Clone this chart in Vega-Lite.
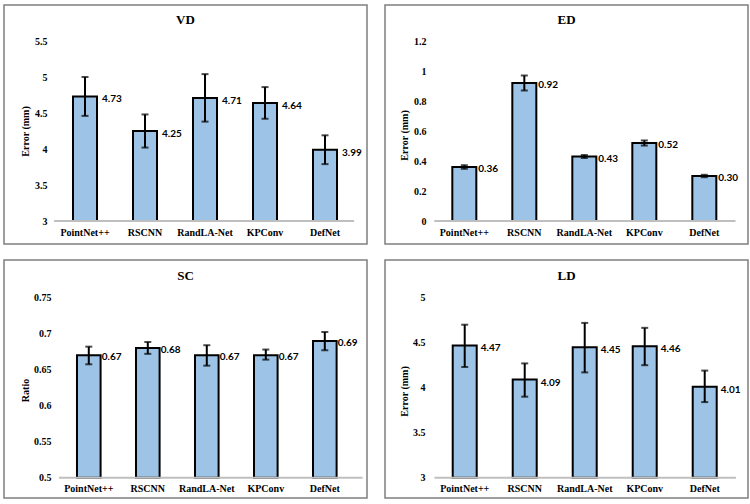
{
  "$schema": "https://vega.github.io/schema/vega-lite/v6.json",
  "background": "white",
  "padding": {"left": 3, "top": 4, "right": 0, "bottom": 0},
  "bounds": "flush",
  "columns": 2,
  "spacing": {"row": 16, "column": 18},
  "config": {
    "font": "Liberation Serif",
    "view": {"stroke": "#7f7f7f", "strokeWidth": 1.5},
    "axis": {"grid": false, "domain": false, "ticks": false, "labelColor": "#000", "titleColor": "#000", "labelFont": "Liberation Serif", "titleFont": "Liberation Serif", "labelFontWeight": "bold", "titleFontWeight": "bold", "labelFontSize": 10, "titleFontSize": 10},
    "title": {"font": "Liberation Serif", "fontWeight": "bold", "fontSize": 13, "color": "#000", "anchor": "middle", "baseline": "middle"}
  },
  "data": {"values": [
    {"panel": "VD", "model": "PointNet++", "value": 4.73, "lo": 4.46, "hi": 5.0},
    {"panel": "VD", "model": "RSCNN", "value": 4.25, "lo": 4.02, "hi": 4.48},
    {"panel": "VD", "model": "RandLA-Net", "value": 4.71, "lo": 4.38, "hi": 5.04},
    {"panel": "VD", "model": "KPConv", "value": 4.64, "lo": 4.42, "hi": 4.86},
    {"panel": "VD", "model": "DefNet", "value": 3.99, "lo": 3.79, "hi": 4.19},
    {"panel": "ED", "model": "PointNet++", "value": 0.36, "lo": 0.348, "hi": 0.372},
    {"panel": "ED", "model": "RSCNN", "value": 0.92, "lo": 0.87, "hi": 0.97},
    {"panel": "ED", "model": "RandLA-Net", "value": 0.43, "lo": 0.42, "hi": 0.44},
    {"panel": "ED", "model": "KPConv", "value": 0.52, "lo": 0.503, "hi": 0.537},
    {"panel": "ED", "model": "DefNet", "value": 0.3, "lo": 0.292, "hi": 0.308},
    {"panel": "SC", "model": "PointNet++", "value": 0.67, "lo": 0.6575, "hi": 0.682},
    {"panel": "SC", "model": "RSCNN", "value": 0.68, "lo": 0.672, "hi": 0.6885},
    {"panel": "SC", "model": "RandLA-Net", "value": 0.67, "lo": 0.6556, "hi": 0.684},
    {"panel": "SC", "model": "KPConv", "value": 0.67, "lo": 0.664, "hi": 0.678},
    {"panel": "SC", "model": "DefNet", "value": 0.69, "lo": 0.677, "hi": 0.7024},
    {"panel": "LD", "model": "PointNet++", "value": 4.47, "lo": 4.23, "hi": 4.7},
    {"panel": "LD", "model": "RSCNN", "value": 4.09, "lo": 3.9, "hi": 4.27},
    {"panel": "LD", "model": "RandLA-Net", "value": 4.45, "lo": 4.17, "hi": 4.72},
    {"panel": "LD", "model": "KPConv", "value": 4.46, "lo": 4.25, "hi": 4.665},
    {"panel": "LD", "model": "DefNet", "value": 4.01, "lo": 3.84, "hi": 4.19}
  ]},
  "concat": [
    {
      "width": 363, "height": 239,
      "title": {"text": "VD", "offset": -22},
      "transform": [{"filter": "datum.panel === 'VD'"}],
      "encoding": {
        "x": {"field": "model", "type": "nominal", "scale": {"domain": ["PointNet++", "RSCNN", "RandLA-Net", "KPConv", "DefNet"], "paddingInner": 0.6, "paddingOuter": 0.825, "align": 0.697},
              "axis": {"title": null, "offset": -23, "labelPadding": 6, "labelAngle": 0, "labelFont": "Liberation Serif"}},
        "y": {"field": "value", "type": "quantitative", "scale": {"domain": [2.68056, 6.0], "nice": false, "zero": false},
              "axis": {"title": "Error (mm)", "values": [3, 3.5, 4, 4.5, 5, 5.5], "format": "~g", "offset": -45, "labelPadding": 2, "labelFont": "Liberation Serif", "titleFont": "Liberation Serif", "titleX": -24, "titleY": 126, "titleAngle": -90, "titleAlign": "center", "titleBaseline": "middle"}}
      },
      "layer": [
        {"mark": {"type": "bar", "fill": "#9dc3e6", "stroke": "#000", "strokeWidth": 2}, "encoding": {"y2": {"datum": 3}}},
        {"transform": [{"filter": "datum.model === 'PointNet++'"}], "mark": {"type": "rule", "color": "#bfbfbf", "strokeWidth": 2},
         "encoding": {"x": {"datum": "PointNet++", "bandPosition": -0.79}, "x2": {"datum": "DefNet", "bandPosition": 1.71}, "y": {"datum": 3}}},
        {"mark": {"type": "rule", "color": "#000", "strokeWidth": 2}, "encoding": {"y": {"field": "lo", "type": "quantitative"}, "y2": {"field": "hi"}}},
        {"mark": {"type": "tick", "color": "#000", "size": 7, "thickness": 2}, "encoding": {"y": {"field": "lo", "type": "quantitative"}}},
        {"mark": {"type": "tick", "color": "#000", "size": 7, "thickness": 2}, "encoding": {"y": {"field": "hi", "type": "quantitative"}}},
        {"mark": {"type": "text", "align": "left", "baseline": "middle", "dx": 17, "dy": 3, "font": "Lato", "fontWeight": "bold", "fontSize": 10, "color": "#000"},
         "encoding": {"text": {"field": "value", "type": "quantitative", "format": ".2f"}}}
      ]
    },
    {
      "width": 363, "height": 239,
      "title": {"text": "ED", "offset": -22},
      "transform": [{"filter": "datum.panel === 'ED'"}],
      "encoding": {
        "x": {"field": "model", "type": "nominal", "scale": {"domain": ["PointNet++", "RSCNN", "RandLA-Net", "KPConv", "DefNet"], "paddingInner": 0.6, "paddingOuter": 0.825, "align": 0.68},
              "axis": {"title": null, "offset": -23, "labelPadding": 6, "labelAngle": 0, "labelFont": "Liberation Serif"}},
        "y": {"field": "value", "type": "quantitative", "scale": {"domain": [-0.15333, 1.44], "nice": false, "zero": false},
              "axis": {"title": "Error (mm)", "values": [0, 0.2, 0.4, 0.6, 0.8, 1, 1.2], "format": "~g", "offset": -43, "labelPadding": 2, "labelFont": "Liberation Serif", "titleFont": "Liberation Serif", "titleX": -24, "titleY": 130, "titleAngle": -90, "titleAlign": "center", "titleBaseline": "middle"}}
      },
      "layer": [
        {"mark": {"type": "bar", "fill": "#9dc3e6", "stroke": "#000", "strokeWidth": 2}, "encoding": {"y2": {"datum": 0}}},
        {"transform": [{"filter": "datum.model === 'PointNet++'"}], "mark": {"type": "rule", "color": "#bfbfbf", "strokeWidth": 2},
         "encoding": {"x": {"datum": "PointNet++", "bandPosition": -0.75}, "x2": {"datum": "DefNet", "bandPosition": 1.8}, "y": {"datum": 0}}},
        {"mark": {"type": "rule", "color": "#000", "strokeWidth": 2}, "encoding": {"y": {"field": "lo", "type": "quantitative"}, "y2": {"field": "hi"}}},
        {"mark": {"type": "tick", "color": "#000", "size": 7, "thickness": 2}, "encoding": {"y": {"field": "lo", "type": "quantitative"}}},
        {"mark": {"type": "tick", "color": "#000", "size": 7, "thickness": 2}, "encoding": {"y": {"field": "hi", "type": "quantitative"}}},
        {"mark": {"type": "text", "align": "left", "baseline": "middle", "dx": 14, "dy": 2, "font": "Lato", "fontWeight": "bold", "fontSize": 10, "color": "#000"},
         "encoding": {"text": {"field": "value", "type": "quantitative", "format": ".2f"}}}
      ]
    },
    {
      "width": 363, "height": 238,
      "title": {"text": "SC", "offset": -23},
      "transform": [{"filter": "datum.panel === 'SC'"}],
      "encoding": {
        "x": {"field": "model", "type": "nominal", "scale": {"domain": ["PointNet++", "RSCNN", "RandLA-Net", "KPConv", "DefNet"], "paddingInner": 0.6, "paddingOuter": 0.876, "align": 0.706},
              "axis": {"title": null, "offset": -20.3, "labelPadding": 6, "labelAngle": 0, "labelFont": "Liberation Serif"}},
        "y": {"field": "value", "type": "quantitative", "scale": {"domain": [0.47181, 0.80236], "nice": false, "zero": false},
              "axis": {"title": "Ratio", "values": [0.5, 0.55, 0.6, 0.65, 0.7, 0.75], "format": "~g", "offset": -49, "labelPadding": 2, "labelFont": "Liberation Serif", "titleFont": "Liberation Serif", "titleX": -28, "titleY": 130, "titleAngle": -90, "titleAlign": "center", "titleBaseline": "middle"}}
      },
      "layer": [
        {"mark": {"type": "bar", "fill": "#9dc3e6", "stroke": "#000", "strokeWidth": 2}, "encoding": {"y2": {"datum": 0.5}}},
        {"transform": [{"filter": "datum.model === 'PointNet++'"}], "mark": {"type": "rule", "color": "#bfbfbf", "strokeWidth": 2},
         "encoding": {"x": {"datum": "PointNet++", "bandPosition": -0.76}, "x2": {"datum": "DefNet", "bandPosition": 2.1}, "y": {"datum": 0.5}}},
        {"mark": {"type": "rule", "color": "#000", "strokeWidth": 2}, "encoding": {"y": {"field": "lo", "type": "quantitative"}, "y2": {"field": "hi"}}},
        {"mark": {"type": "tick", "color": "#000", "size": 7, "thickness": 2}, "encoding": {"y": {"field": "lo", "type": "quantitative"}}},
        {"mark": {"type": "tick", "color": "#000", "size": 7, "thickness": 2}, "encoding": {"y": {"field": "hi", "type": "quantitative"}}},
        {"mark": {"type": "text", "align": "left", "baseline": "middle", "dx": 13, "dy": 2, "font": "Lato", "fontWeight": "bold", "fontSize": 10, "color": "#000"},
         "encoding": {"text": {"field": "value", "type": "quantitative", "format": ".2f"}}}
      ]
    },
    {
      "width": 363, "height": 238,
      "title": {"text": "LD", "offset": -23},
      "transform": [{"filter": "datum.panel === 'LD'"}],
      "encoding": {
        "x": {"field": "model", "type": "nominal", "scale": {"domain": ["PointNet++", "RSCNN", "RandLA-Net", "KPConv", "DefNet"], "paddingInner": 0.6, "paddingOuter": 0.825, "align": 0.684},
              "axis": {"title": null, "offset": -20.3, "labelPadding": 6, "labelAngle": 0, "labelFont": "Liberation Serif"}},
        "y": {"field": "value", "type": "quantitative", "scale": {"domain": [2.7744, 5.4189], "nice": false, "zero": false},
              "axis": {"title": "Error (mm)", "values": [3, 3.5, 4, 4.5, 5], "format": "~g", "offset": -42, "labelPadding": 2, "labelFont": "Liberation Serif", "titleFont": "Liberation Serif", "titleX": -23, "titleY": 131, "titleAngle": -90, "titleAlign": "center", "titleBaseline": "middle"}}
      },
      "layer": [
        {"mark": {"type": "bar", "fill": "#9dc3e6", "stroke": "#000", "strokeWidth": 2}, "encoding": {"y2": {"datum": 3}}},
        {"transform": [{"filter": "datum.model === 'PointNet++'"}], "mark": {"type": "rule", "color": "#bfbfbf", "strokeWidth": 2},
         "encoding": {"x": {"datum": "PointNet++", "bandPosition": -0.76}, "x2": {"datum": "DefNet", "bandPosition": 1.8}, "y": {"datum": 3}}},
        {"mark": {"type": "rule", "color": "#000", "strokeWidth": 2}, "encoding": {"y": {"field": "lo", "type": "quantitative"}, "y2": {"field": "hi"}}},
        {"mark": {"type": "tick", "color": "#000", "size": 7, "thickness": 2}, "encoding": {"y": {"field": "lo", "type": "quantitative"}}},
        {"mark": {"type": "tick", "color": "#000", "size": 7, "thickness": 2}, "encoding": {"y": {"field": "hi", "type": "quantitative"}}},
        {"mark": {"type": "text", "align": "left", "baseline": "middle", "dx": 16, "dy": 3, "font": "Lato", "fontWeight": "bold", "fontSize": 10, "color": "#000"},
         "encoding": {"text": {"field": "value", "type": "quantitative", "format": ".2f"}}}
      ]
    }
  ]
}
